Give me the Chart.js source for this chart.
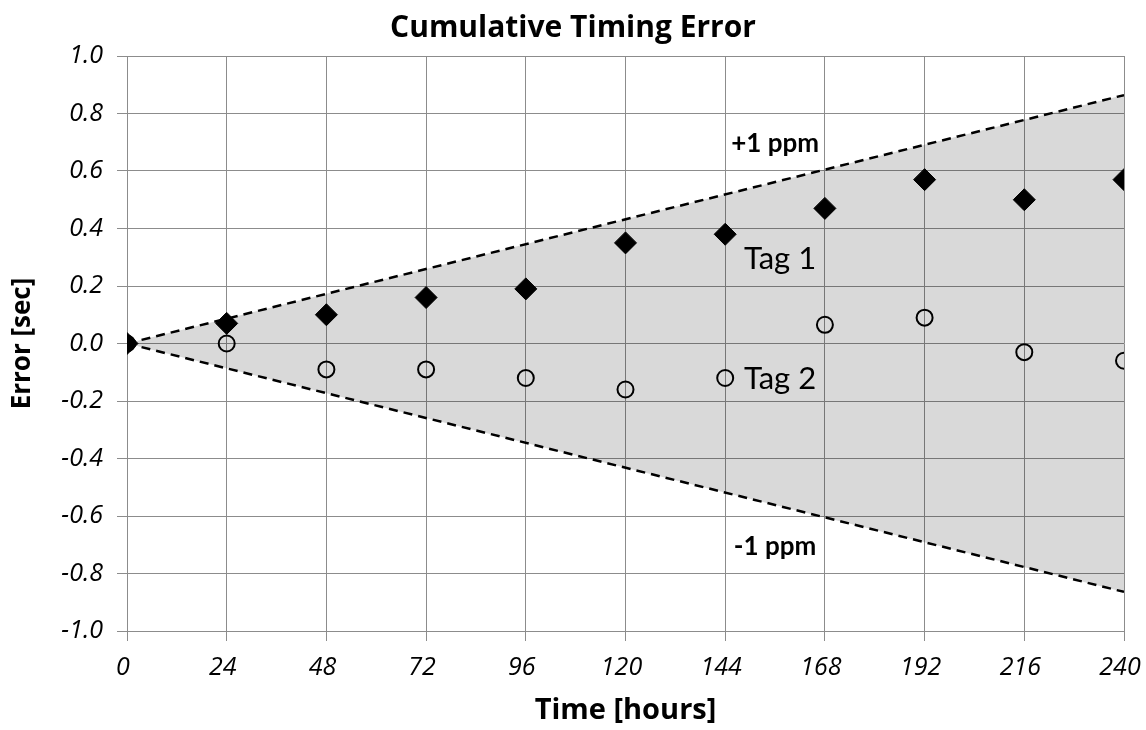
<!DOCTYPE html>
<html>
<head>
<meta charset="utf-8">
<script src="https://cdn.jsdelivr.net/npm/chart.js@4"></script>
<style>
  html, body { margin: 0; padding: 0; background: #fff; }
  #wrap { width: 1146px; height: 730px; }
</style>
</head>
<body>
<div id="wrap"><canvas id="chart"></canvas></div>
<script>
// values
const hours = [0, 24, 48, 72, 96, 120, 144, 168, 192, 216, 240];
const tag1 = [0, 0.07, 0.10, 0.16, 0.19, 0.35, 0.38, 0.47, 0.57, 0.50, 0.57];
const tag2 = [0, 0.0, -0.09, -0.09, -0.12, -0.16, -0.12, 0.065, 0.09, -0.03, -0.06];
const limitHours = [0, 240];
const plusPpm = [0, 0.864];
const minusPpm = [0, -0.864];
const xTicks = [0, 24, 48, 72, 96, 120, 144, 168, 192, 216, 240];

const toPoints = (xs, ys) => xs.map((x, i) => ({ x: x, y: ys[i] }));

const gridColor = '#8c8c8c';
const tickFont = { family: 'Open Sans', size: 25, style: 'italic' };

// text notes on the plot
const notes = {
  id: 'notes',
  afterDatasetsDraw(chart) {
    const { ctx, scales: { x, y } } = chart;
    ctx.save();
    ctx.fillStyle = '#000';
    ctx.textBaseline = 'middle';
    ctx.textAlign = 'center';
    ctx.font = 'bold 26px Lato';
    ctx.fillText('+1 ppm', x.getPixelForValue(156), y.getPixelForValue(0.695));
    ctx.fillText('-1 ppm', x.getPixelForValue(156), y.getPixelForValue(-0.705));
    ctx.textAlign = 'left';
    ctx.font = '31px Lato';
    ctx.fillText('Tag 1', x.getPixelForValue(148.5), y.getPixelForValue(0.295));
    ctx.fillText('Tag 2', x.getPixelForValue(148.5), y.getPixelForValue(-0.125));
    ctx.restore();
  }
};

new Chart(document.getElementById('chart'), {
  type: 'scatter',
  data: {
    datasets: [
      {
        label: 'Tag 1',
        data: toPoints(hours, tag1),
        pointStyle: 'rectRot',
        pointRadius: 11,
        backgroundColor: '#000',
        borderColor: '#000',
        borderWidth: 1
      },
      {
        label: 'Tag 2',
        data: toPoints(hours, tag2),
        pointStyle: 'circle',
        pointRadius: 8,
        backgroundColor: 'rgba(0,0,0,0)',
        borderColor: '#000',
        borderWidth: 2
      },
      {
        label: '+1 ppm',
        data: toPoints(limitHours, plusPpm),
        showLine: true,
        pointRadius: 0,
        borderColor: '#000',
        borderWidth: 2.5,
        borderDash: [9, 6],
        backgroundColor: 'rgba(0,0,0,0.15)',
        fill: '+1'
      },
      {
        label: '-1 ppm',
        data: toPoints(limitHours, minusPpm),
        showLine: true,
        pointRadius: 0,
        borderColor: '#000',
        borderWidth: 2.5,
        borderDash: [9, 6],
        fill: false
      }
    ]
  },
  options: {
    responsive: true,
    maintainAspectRatio: false,
    animation: false,
    layout: { padding: 0 },
    plugins: {
      legend: { display: false },
      tooltip: { enabled: false },
      title: {
        display: true,
        text: 'Cumulative Timing Error',
        color: '#000',
        font: { family: 'Open Sans', size: 30, weight: 'bold' },
        padding: { top: 10, bottom: 10 }
      }
    },
    scales: {
      x: {
        type: 'linear',
        min: 0,
        max: 240,
        afterBuildTicks: (axis) => { axis.ticks = xTicks.map(v => ({ value: v })); },
        afterFit: (axis) => {
          axis.height = 99;
          axis.paddingRight = 22;
          axis.paddingLeft = 0;
        },
        grid: { color: gridColor, lineWidth: 1, tickLength: 10 },
        border: { color: gridColor },
        ticks: { color: '#000', font: tickFont, padding: 12, maxRotation: 0, labelOffset: -4 },
        title: {
          display: true,
          text: 'Time [hours]',
          color: '#000',
          font: { family: 'Open Sans', size: 29, weight: 'bold' },
          padding: { top: 2, bottom: 2 }
        }
      },
      y: {
        min: -1,
        max: 1,
        afterFit: (axis) => { axis.width = 127; },
        grid: { color: gridColor, lineWidth: 1, tickLength: 10 },
        border: { color: gridColor },
        ticks: {
          stepSize: 0.2,
          color: '#000',
          font: tickFont,
          padding: 14,
          callback: (v) => (Math.abs(v) < 1e-9 ? 0 : v).toFixed(1)
        },
        title: {
          display: true,
          text: 'Error [sec]',
          color: '#000',
          font: { family: 'Open Sans', size: 26, weight: 'bold' },
          padding: { top: 7, bottom: 0 }
        }
      }
    }
  },
  plugins: [notes]
});
</script>
</body>
</html>
